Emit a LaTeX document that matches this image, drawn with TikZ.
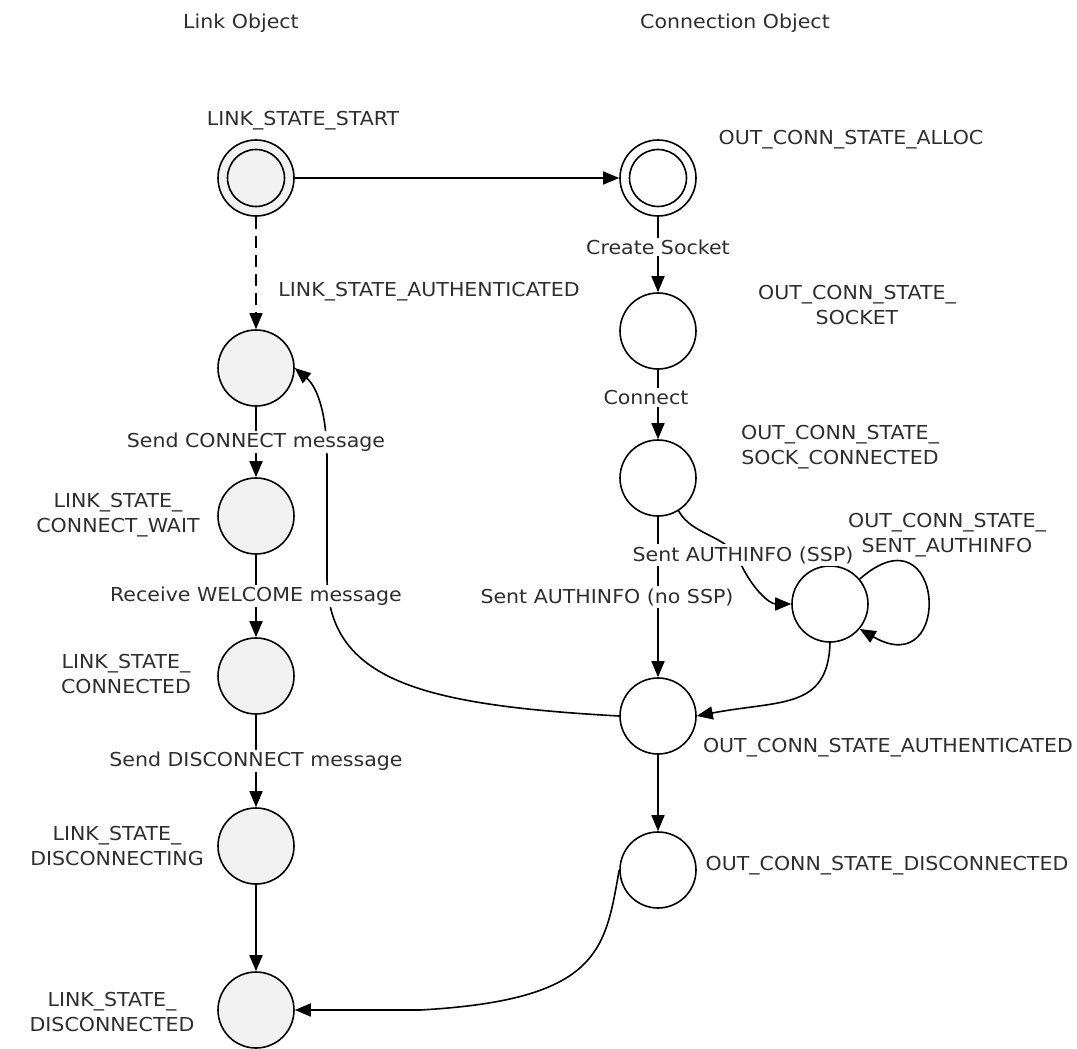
\documentclass[tikz,border=0pt]{standalone}
\usepackage{fontspec}
\setmainfont{DejaVu Sans}[FakeStretch=1.07]
\usetikzlibrary{arrows.meta}

\definecolor{linkgray}{HTML}{F2F2F2}
\definecolor{inkgray}{HTML}{2E2E2E}

\tikzset{
	linkstate/.style={circle,draw,line width=1.6pt,fill=linkgray,minimum size=76pt,inner sep=0pt},
	connstate/.style={circle,draw,line width=1.6pt,fill=white,minimum size=76pt,inner sep=0pt},
	statename/.style={align=center,text=inkgray,font=\fontsize{19.2}{25}\selectfont},
	msg/.style={fill=white,inner sep=2pt,text=inkgray,font=\fontsize{19.2}{25}\selectfont},
}

\begin{document}
\begin{tikzpicture}[x=1pt,y=-1pt,>={Triangle[length=16pt,width=13pt]},line width=1.6pt]
	\useasboundingbox (0,0) rectangle (1077,1049);

	\begin{scope}[every node/.style={statename}]
		\node (TL) at (241,23) {Link Object};
		\node (TC) at (735,23) {Connection Object};
	\end{scope}

	\begin{scope}[every node/.style={linkstate}]
		\node (LS) at (256,178) {};
		\node (LA) at (256,368) {};
		\node (LW) at (256,516) {};
		\node (LC) at (256,676) {};
		\node (LDg) at (256,846) {};
		\node (LDd) at (256,1010) {};
	\end{scope}
	\draw (LS.center) circle[radius=28.5pt];

	\begin{scope}[every node/.style={connstate}]
		\node (CA) at (658,178) {};
		\node (CS) at (658,331) {};
		\node (CC) at (658,478) {};
		\node (CSA) at (830,604) {};
		\node (CAu) at (658,716) {};
		\node (CD) at (658,870) {};
	\end{scope}
	\draw (CA.center) circle[radius=28.5pt];

	\begin{scope}[every node/.style={statename}]
		\node (nLS) at (303,121) {LINK\_STATE\_START};
		\node (nLA) at (429,292) {LINK\_STATE\_AUTHENTICATED};
		\node (nLW) at (118,515) {LINK\_STATE\_\\CONNECT\_WAIT};
		\node (nLC) at (126,674) {LINK\_STATE\_\\CONNECTED};
		\node (nLDg) at (117,846) {LINK\_STATE\_\\DISCONNECTING};
		\node (nLDd) at (112,1012) {LINK\_STATE\_\\DISCONNECTED};
		\node (nCA) at (851,140) {OUT\_CONN\_STATE\_ALLOC};
		\node (nCS) at (857,305) {OUT\_CONN\_STATE\_\\SOCKET};
		\node (nCC) at (840,447) {OUT\_CONN\_STATE\_\\SOCK\_CONNECTED};
		\node (nCSA) at (947,535) {OUT\_CONN\_STATE\_\\SENT\_AUTHINFO};
		\node (nCAu) at (888,748) {OUT\_CONN\_STATE\_AUTHENTICATED};
		\node (nCD) at (887,866) {OUT\_CONN\_STATE\_DISCONNECTED};
	\end{scope}

	% curved transitions first, the labels cover them
	\begin{scope}[->]
		\draw (CAu.west) .. controls (420,705) and (330,680) .. (327,580) -- (327,460)
			.. controls (327,410) and (316,386) .. (LA.east);
		\draw (CD.west) .. controls (605,950) and (600,1000) .. (420,1010) -- (LDd.east);
		\draw (CSA.south) .. controls (828,710) and (780,700) .. (CAu.east);
		\draw (CSA.40) .. controls +(85,-75) and +(95,55) .. (CSA.-40);
		\path (CC) edge node[msg,xshift=-51pt] {Sent AUTHINFO (no SSP)} (CAu);
		\draw (CC.-58) .. controls (692,535) and (725,535) .. (738,558)
			.. controls (752,590) and (770,604) .. (CSA.west)
			node[msg] at (743,555) {Sent AUTHINFO (SSP)};
	\end{scope}

	\begin{scope}[->]
		\path (LS) edge (CA);
		\path (LS) edge[dash pattern=on 12pt off 7pt] (LA);
		\path (LA) edge node[msg] {Send CONNECT message} (LW);
		\path (LW) edge node[msg] {Receive WELCOME message} (LC);
		\path (LC) edge node[msg] {Send DISCONNECT message} (LDg);
		\path (LDg) edge (LDd);
		\path (CA) edge node[msg,pos=.4] {Create Socket} (CS);
		\path (CS) edge node[msg,pos=.4,xshift=-12pt] {Connect} (CC);
		\path (CAu) edge (CD);
	\end{scope}
\end{tikzpicture}
\end{document}
